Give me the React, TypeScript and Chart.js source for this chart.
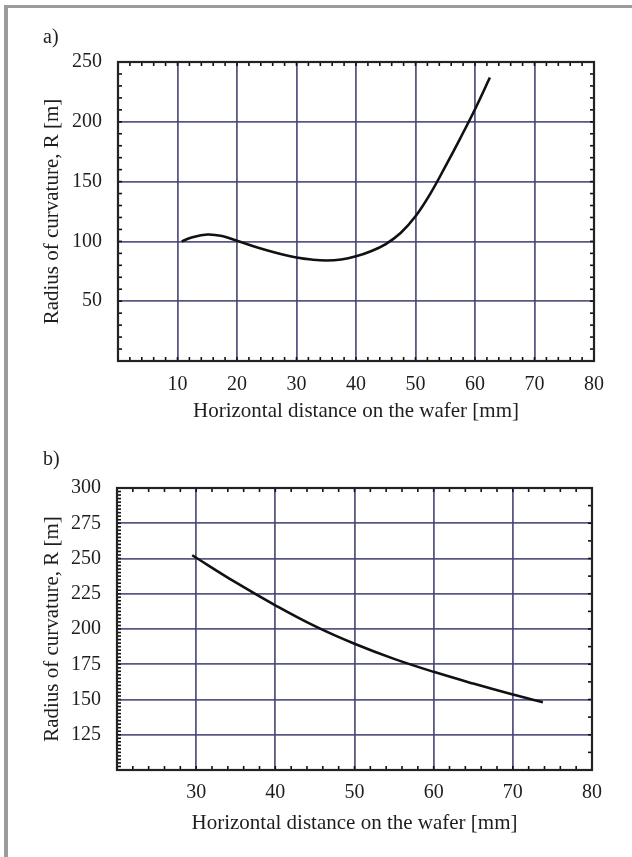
import React, { useEffect, useRef } from "react";
import { Chart, registerables } from "chart.js";
Chart.register(...registerables);

// ---- Data: chart a) ----
const distanceA = [10.7, 12.5, 15, 17.5, 20, 22.5, 25, 27.5, 30, 32.5, 35, 37.5, 40, 42.5, 45, 47.5, 50, 52.5, 55, 57.5, 60, 62.5];
const radiusA = [100, 103.5, 105.8, 104.5, 100.5, 96.3, 92.5, 89.2, 86.5, 84.8, 84, 84.8, 87.5, 91.8, 97.8, 107, 121, 140, 162.5, 186, 210.5, 237];
const xTickLabelsA = [10, 20, 30, 40, 50, 60, 70, 80];
const yTickLabelsA = [50, 100, 150, 200, 250];

// ---- Data: chart b) ----
const distanceB = [29.5, 35, 40, 45, 50, 55, 60, 65, 70, 73.8];
const radiusB = [252.3, 233, 216.8, 202, 189.5, 178.8, 169.6, 161.3, 153.5, 148];
const xTickLabelsB = [30, 40, 50, 60, 70, 80];
const yTickLabelsB = [125, 150, 175, 200, 225, 250, 275, 300];

const X_TITLE = "Horizontal distance on the wafer [mm]";
const Y_TITLE = "Radius of curvature, R [m]";
const FONT = "'Liberation Serif', 'Times New Roman', serif";
const GRID = "rgba(70, 70, 118, 0.9)";
const TEXT = "#1e1e1e";

const frameTicks = {
  id: "frameTicks",
  afterDraw(chart: any, _args: any, opts: any) {
    const { ctx, chartArea } = chart;
    const { left, right, top, bottom } = chartArea;
    const xs = chart.scales.x;
    const ys = chart.scales.y;
    ctx.save();
    ctx.strokeStyle = "#111";
    ctx.lineWidth = 1.6;
    const len = 4;
    const nx = Math.round((xs.max - xs.min) / opts.xMinor);
    for (let i = 1; i < nx; i++) {
      const px = xs.getPixelForValue(xs.min + i * opts.xMinor);
      ctx.beginPath();
      ctx.moveTo(px, bottom);
      ctx.lineTo(px, bottom - len);
      ctx.moveTo(px, top);
      ctx.lineTo(px, top + len);
      ctx.stroke();
    }
    const ny = Math.round((ys.max - ys.min) / opts.yMinor);
    for (let i = 1; i < ny; i++) {
      const py = ys.getPixelForValue(ys.min + i * opts.yMinor);
      ctx.beginPath();
      ctx.moveTo(left, py);
      ctx.lineTo(left + len, py);
      ctx.stroke();
    }
    const nr = Math.round((ys.max - ys.min) / opts.yMinorRight);
    for (let i = 1; i < nr; i++) {
      const py = ys.getPixelForValue(ys.min + i * opts.yMinorRight);
      ctx.beginPath();
      ctx.moveTo(right, py);
      ctx.lineTo(right - len, py);
      ctx.stroke();
    }
    ctx.lineWidth = 2.2;
    ctx.strokeStyle = "#222";
    ctx.strokeRect(left, top, right - left, bottom - top);
    ctx.restore();
  },
};

function makeConfig(p: any) {
  return {
    type: "line" as const,
    data: {
      datasets: [
        {
          data: p.xs.map((x: number, i: number) => ({ x, y: p.ys[i] })),
          borderColor: "#111",
          borderWidth: 2.6,
          pointRadius: 0,
          tension: 0.4,
          fill: false,
        },
      ],
    },
    options: {
      responsive: false,
      animation: false as const,
      layout: { padding: p.padding },
      plugins: {
        legend: { display: false },
        tooltip: { enabled: false },
        frameTicks: { xMinor: p.xMinor, yMinor: p.yMinor, yMinorRight: p.yMinorRight },
      },
      scales: {
        x: {
          type: "linear" as const,
          min: p.xMin,
          max: p.xMax,
          afterFit: (s: any) => { s.height = 70; },
          border: { display: false },
          grid: { color: GRID, lineWidth: 1.8, drawTicks: false },
          ticks: {
            stepSize: 10,
            padding: p.xTickPad,
            color: TEXT,
            font: { family: FONT, size: 20 },
            callback: (v: any) => (p.xLabels.includes(v) ? String(v) : ""),
            maxRotation: 0,
            autoSkip: false,
          },
          title: {
            display: true,
            text: X_TITLE,
            color: TEXT,
            font: { family: FONT, size: 21 },
            padding: { top: 0, bottom: p.xTitlePad },
          },
        },
        y: {
          type: "linear" as const,
          min: p.yMin,
          max: p.yMax,
          afterFit: (s: any) => { s.width = p.yWidth; },
          border: { display: false },
          grid: { color: GRID, lineWidth: 1.8, drawTicks: false },
          ticks: {
            stepSize: p.yStep,
            padding: 16,
            color: TEXT,
            font: { family: FONT, size: 20 },
            callback: (v: any) => (p.yLabels.includes(v) ? String(v) : ""),
            autoSkip: false,
          },
          title: {
            display: true,
            text: Y_TITLE,
            color: TEXT,
            font: { family: FONT, size: 21 },
            padding: { top: 40, bottom: 0 },
          },
        },
      },
    },
    plugins: [frameTicks],
  };
}

function Plot(props: { params: any; top: number; height: number }) {
  const ref = useRef<HTMLCanvasElement | null>(null);
  useEffect(() => {
    if (!ref.current) return;
    const chart = new Chart(ref.current, makeConfig(props.params) as any);
    return () => chart.destroy();
  }, []);
  return (
    <canvas
      ref={ref}
      width={632}
      height={props.height}
      style={{ position: "absolute", left: 0, top: props.top, width: 632, height: props.height, display: "block" }}
    />
  );
}

const paramsA = {
  xs: distanceA, ys: radiusA, xLabels: xTickLabelsA, yLabels: yTickLabelsA,
  xMin: 0, xMax: 80, yMin: 0, yMax: 250, yStep: 50,
  xMinor: 2, yMinor: 10, yMinorRight: 10,
  yWidth: 118, xTickPad: 12, xTitlePad: 7,
  padding: { top: 62, right: 38, left: 0, bottom: 9 },
};

const paramsB = {
  xs: distanceB, ys: radiusB, xLabels: xTickLabelsB, yLabels: yTickLabelsB,
  xMin: 20, xMax: 80, yMin: 100, yMax: 300, yStep: 25,
  xMinor: 2, yMinor: 2.5, yMinorRight: 12.5,
  yWidth: 117, xTickPad: 11, xTitlePad: 4,
  padding: { top: 48, right: 40, left: 0, bottom: 17 },
};

export default function App() {
  const label: React.CSSProperties = {
    position: "absolute", left: 43, fontFamily: FONT, fontSize: 20, lineHeight: "20px", color: TEXT,
  };
  return (
    <div style={{ position: "absolute", left: 0, top: 0, width: 632, height: 857, background: "#fff", overflow: "hidden" }}>
      <Plot params={paramsA} top={0} height={440} />
      <Plot params={paramsB} top={440} height={417} />
      <div style={{ ...label, top: 26 }}>a)</div>
      <div style={{ ...label, top: 448 }}>b)</div>
      <div style={{ position: "absolute", left: 4, top: 5, width: 628, height: 3, background: "#9b9b9b" }} />
      <div style={{ position: "absolute", left: 4, top: 5, width: 4, height: 852, background: "#9b9b9b" }} />
    </div>
  );
}
